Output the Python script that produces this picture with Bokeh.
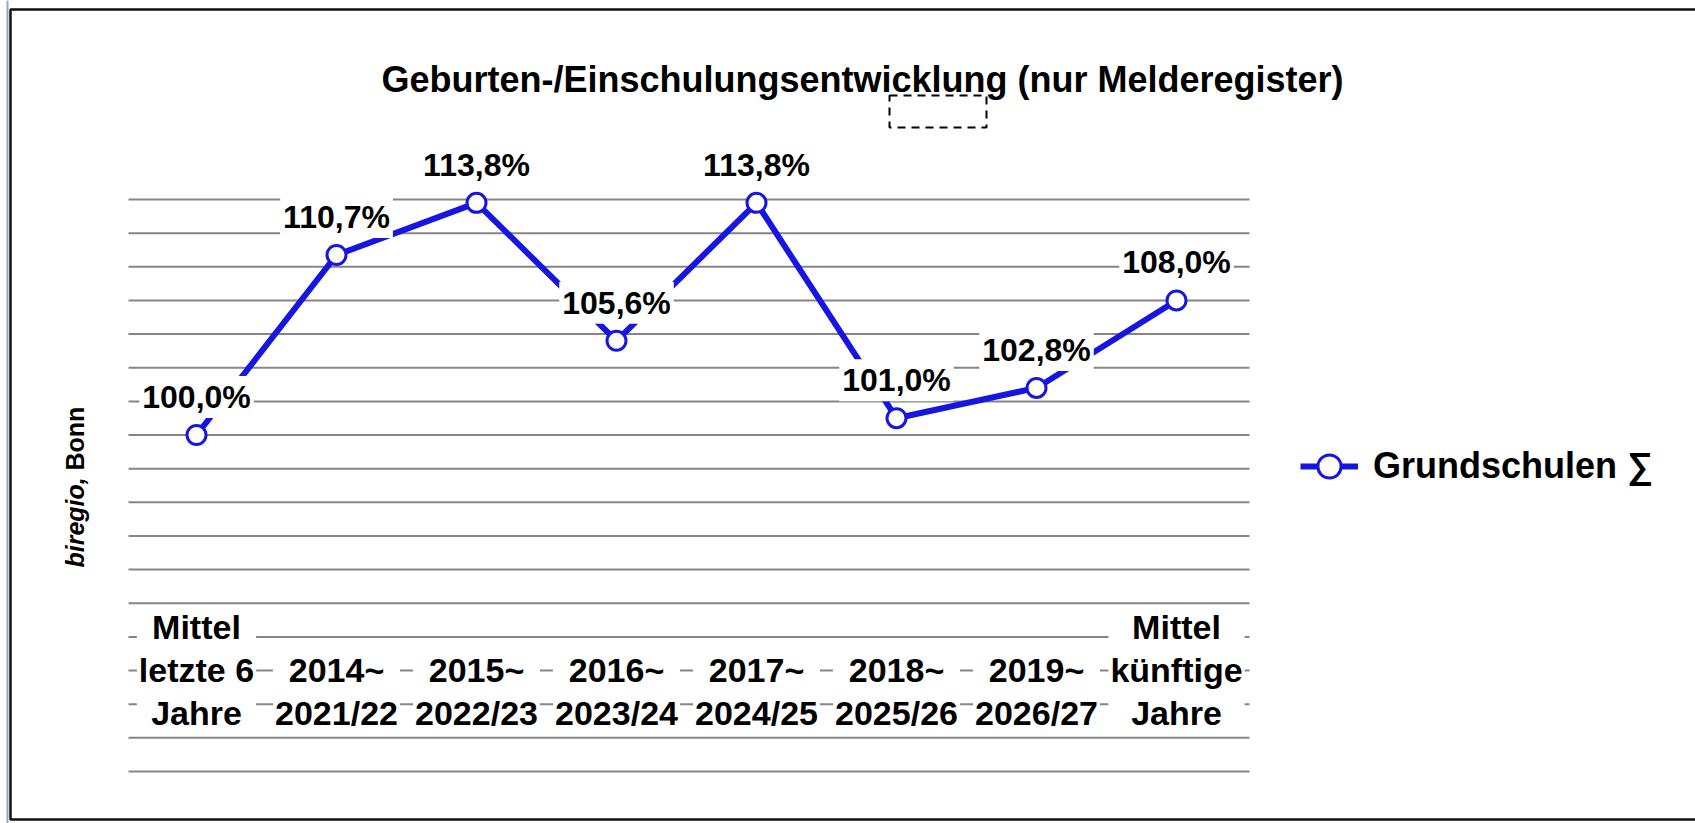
import math
from bokeh.plotting import figure
from bokeh.models import Range1d, Label, Legend, LegendItem, BoxAnnotation
from bokeh.core.properties import value
from bokeh.embed import file_html
from bokeh.resources import INLINE

# ---- data -------------------------------------------------------------
categories = ["Mittel\nletzte 6\nJahre", "2014~\n2021/22", "2015~\n2022/23",
              "2016~\n2023/24", "2017~\n2024/25", "2018~\n2025/26",
              "2019~\n2026/27", "Mittel\nkünftige\nJahre"]
grundschulen = [100.0, 110.7, 113.8, 105.6, 113.8, 101.0, 102.8, 108.0]
value_labels = [f"{v:.1f}%".replace(".", ",") for v in grundschulen]
grid_ticks = list(range(80, 116, 2))
series_name = "Grundschulen \u2211"
title_text = "Geburten-/Einschulungsentwicklung (nur Melderegister)"
source_italic = "biregio,"
source_plain = "Bonn"

# ---- layout helpers (page pixels -> data space) -----------------------
W, H = 1695, 823
CAT_PX0, CAT_STEP = 196.0, 140.0          # centre of first category, spacing
Y_TOP_PX, PX_PER_UNIT = 199.0, 572.0 / 34  # pixel of 114 %, pixels per 1 %
def sx(px):
    return (px - CAT_PX0) / CAT_STEP
def sy(py):
    return 114.0 - (py - Y_TOP_PX) / PX_PER_UNIT

xs = list(range(len(categories)))

BLUE = "#1616e0"
GRID = "#858585"
FONT = "Liberation Sans"

p = figure(width=W, height=H,
           x_range=Range1d(sx(0), sx(W)), y_range=Range1d(sy(H), sy(0)),
           x_axis_location=None, y_axis_location=None,
           output_backend="svg", toolbar_location=None, tools="",
           min_border=0)
p.title.visible = False
p.xgrid.visible = False
p.ygrid.visible = False
p.outline_line_color = None
p.background_fill_color = "white"
p.border_fill_color = "white"

# horizontal grid lines
p.segment(x0=sx(128), x1=sx(1249), y0=grid_ticks, y1=grid_ticks,
          line_color=GRID, line_width=2)

line_r = p.line(x=xs, y=grundschulen, line_width=6, line_color=BLUE)
pts_r = p.scatter(x=xs, y=grundschulen, marker="circle", size=19,
                  fill_color="white", line_color=BLUE, line_width=3)

# category labels drawn over the grid
p.text(x=xs, y=[sy(734)] * len(categories), text=categories,
       text_font=value(FONT), text_font_style="bold", text_font_size="34px",
       text_align="center", text_baseline="bottom", text_line_height=1.14,
       text_color="black", background_fill_color="white", padding=2)

# data labels
p.text(x=xs, y=grundschulen, text=value_labels, y_offset=-38,
       text_font=value(FONT), text_font_style="bold", text_font_size="32px",
       text_align="center", text_baseline="middle", text_color="black",
       background_fill_color="white", padding=3)

# title
p.add_layout(Label(x=sx(862), y=sy(79), text=title_text, text_font=FONT,
                   text_font_style="bold", text_font_size="36px",
                   text_align="center", text_baseline="middle",
                   text_color="black"))

# dashed box under the title
p.add_layout(BoxAnnotation(left=sx(889), right=sx(986), top=sy(95),
                           bottom=sy(127), fill_color=None, fill_alpha=0,
                           line_color="black", line_alpha=1, line_width=2,
                           line_dash="8 6"))

# chart frame (left, top, bottom; right edge lies beyond the window)
p.add_layout(BoxAnnotation(left=sx(10), right=sx(1760), top=sy(9),
                           bottom=sy(819), fill_color=None, fill_alpha=0,
                           line_color="#111111", line_alpha=1, line_width=2.5))
p.segment(x0=sx(7), x1=sx(7), y0=sy(0), y1=sy(H), line_color="#8fa8cc",
          line_width=2)

# vertical source label
p.add_layout(Label(x=sx(74), y=sy(567), angle=math.pi / 2, text=source_italic,
                   text_font=FONT, text_font_style="bold italic",
                   text_font_size="25px", text_align="left",
                   text_baseline="alphabetic", text_color="black"))
p.add_layout(Label(x=sx(74), y=sy(470), angle=math.pi / 2, text=source_plain,
                   text_font=FONT, text_font_style="bold",
                   text_font_size="25px", text_align="left",
                   text_baseline="alphabetic", text_color="black"))

legend = Legend(items=[LegendItem(label=series_name, renderers=[line_r, pts_r])],
                location=(1300, 328), border_line_color=None,
                background_fill_alpha=0, padding=0, margin=0, spacing=0,
                glyph_width=58, glyph_height=58, label_standoff=15,
                label_text_font=FONT, label_text_font_style="bold",
                label_text_font_size="36px", label_text_color="black")
p.add_layout(legend)

open("out.html", "w").write(file_html(p, INLINE))
